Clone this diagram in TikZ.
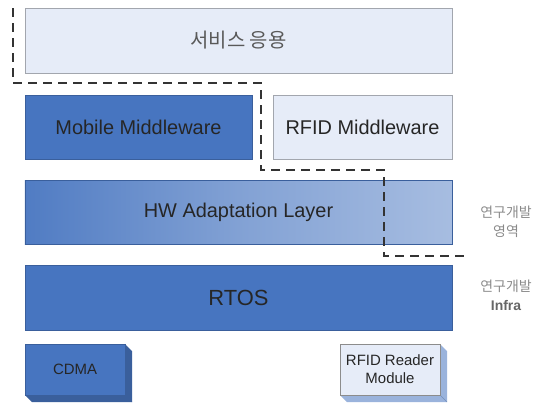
\documentclass[tikz,border=0pt]{standalone}
\usepackage{fontspec}
\setmainfont{Liberation Sans}
\newfontfamily\kr{Noto Sans CJK KR}
\usetikzlibrary{positioning}
\definecolor{darkblue}{HTML}{4775C0}
\definecolor{darkedge}{HTML}{3A5F9C}
\definecolor{lightfill}{HTML}{E6ECF8}
\definecolor{lightedge}{HTML}{A2A6AE}
\definecolor{sidegray}{HTML}{8A8A8A}
\pgfdeclarehorizontalshading{hwshade}{100bp}{
  color(0bp)=(darkblue); color(25bp)=(darkblue!95!white); color(50bp)=(darkblue!68!white);
  color(75bp)=(darkblue!48!white); color(100bp)=(darkblue!35!white)}
\begin{document}
\begin{tikzpicture}[x=1bp, y=-1bp]
\tikzstyle{box_dark} = [rectangle, draw=darkedge, fill=darkblue, thin, font=\fontsize{20}{22}\selectfont, text=black!85]
\tikzstyle{box_light} = [rectangle, draw=lightedge, fill=lightfill, thin, font=\fontsize{20}{22}\selectfont, text=black!85]
\tikzstyle{side_label} = [align=center, text=sidegray, font=\kr\fontsize{14}{19}\selectfont]
\tikzstyle{area_line} = [draw=black!80, line width=1.8bp, dash pattern=on 9bp off 6bp]

\useasboundingbox (0,0) rectangle (545,405);

\node[box_light, minimum width=427bp, minimum height=65bp, text=black!65, font=\kr\fontsize{20}{22}\selectfont] (svc) at (238.5,40.5) {서비스 응용};

\node[box_dark, minimum width=227bp, minimum height=64bp] (mobile) at (138.5,127) {Mobile Middleware};
\node[box_light, minimum width=179bp, minimum height=64bp] (rfidmw) at (362.5,127) {RFID Middleware};

\node[box_dark, shading=hwshade, minimum width=427bp, minimum height=64bp] (hw) at (238.5,212.5) {HW Adaptation Layer};
\node[box_dark, minimum width=427bp, minimum height=65bp, font=\fontsize{22}{24}\selectfont] (rtos) at (238.5,297.5) {RTOS};

% modules with depth
\fill[darkedge] (125,344) -- (132,351) -- (132,402) -- (32,402) -- (25,395) -- (125,395) -- cycle;
\draw[darkedge, thin] (125,395) -- (132,402);
\node[box_dark, minimum width=100bp, minimum height=51bp, font=\fontsize{15}{17}\selectfont] (cdma) at (75,369.5) {CDMA};

\fill[darkblue!55!white] (440,344) -- (447,351) -- (447,402) -- (347,402) -- (340,395) -- (440,395) -- cycle;
\draw[darkedge!70, thin] (440,395) -- (447,402);
\node[box_light, draw=black!45, minimum width=100bp, minimum height=51bp, align=center, font=\fontsize{15}{18}\selectfont] (reader) at (390,369.5) {RFID Reader\\Module};

% research area boundary
\coordinate (a1) at (13,8);
\coordinate (a2) at (13,83);
\coordinate (a3) at (261,83);
\coordinate (a4) at (261,170);
\coordinate (a5) at (384,170);
\coordinate (a6) at (384,256);
\coordinate (a7) at (466,256);
\draw[area_line] (a1) -- (a2) -- (a3) -- (a4) -- (a5) -- (a6) -- (a7);

\node[side_label] (lab_area) at (506,222) {연구개발\\영역};
\node[side_label] (lab_infra) at (506,295) {연구개발\\{\rmfamily\bfseries\color{black!60}Infra}};
\end{tikzpicture}
\end{document}
